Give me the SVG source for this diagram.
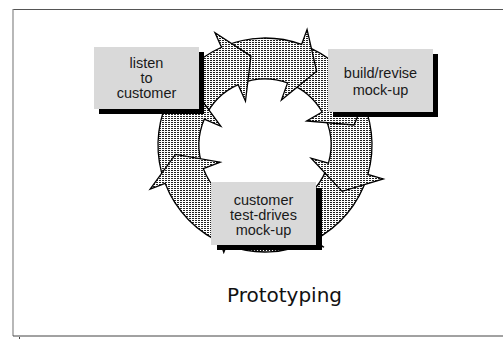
<svg xmlns="http://www.w3.org/2000/svg" width="503" height="339" viewBox="0 0 503 339">
<defs>
<pattern id="hatch" width="3" height="2" patternUnits="userSpaceOnUse">
<rect width="3" height="2" fill="#ffffff"/>
<rect x="0" y="0" width="2" height="1" fill="#222222"/>
</pattern>
</defs>
<style>
.arr{fill:url(#hatch);stroke:#000;stroke-width:1.3;stroke-linejoin:miter}
.box{fill:#d9d9d9}
.sh{fill:#000}
.lbl{font-family:"Liberation Sans",Arial,sans-serif;font-size:14.5px;fill:#1a1a1a;text-anchor:middle}
.title{font-family:"DejaVu Sans",sans-serif;font-size:20px;fill:#111;text-anchor:middle}
</style>
<rect width="503" height="339" fill="#fff"/>
<g id="frame">
<line x1="13" y1="9.5" x2="503" y2="9.5" stroke="#555" stroke-width="1"/>
<line x1="13" y1="9" x2="13" y2="336" stroke="#888" stroke-width="1.2"/>
<line x1="13" y1="336" x2="503" y2="336" stroke="#444" stroke-width="1"/>
<line x1="19.5" y1="337" x2="19.5" y2="339" stroke="#444" stroke-width="1"/>
</g>
<g id="cycle">
<path class="arr" d="M311.91,241.17 A107,107 0 0 1 226.65,244.90 L223.78,252.36 L212.10,217.81 L247.80,189.81 L241.35,206.62 A66,66 0 0 0 293.93,204.32 Z"/>
<path class="arr" d="M367.32,176.29 A107,107 0 0 1 313.58,240.34 L324.00,247.19 L283.71,233.03 L286.79,187.77 L294.96,203.81 A66,66 0 0 0 328.12,164.30 Z"/>
<path class="arr" d="M358.58,93.13 A107,107 0 0 1 367.86,174.49 L383.24,178.90 L342.15,191.35 L311.14,158.23 L328.45,163.19 A66,66 0 0 0 322.72,113.00 Z"/>
<path class="arr" d="M303.35,45.10 A107,107 0 0 1 357.66,91.50 L371.52,83.50 L354.00,125.00 L306.57,121.00 L322.16,112.00 A66,66 0 0 0 288.65,83.38 Z"/>
<path class="arr" d="M223.20,46.51 A107,107 0 0 1 301.59,44.45 L307.07,29.42 L316.62,71.27 L281.42,99.89 L287.57,82.98 A66,66 0 0 0 239.21,84.25 Z"/>
<path class="arr" d="M167.26,101.48 A107,107 0 0 1 221.48,47.26 L214.98,32.64 L250.92,56.11 L245.48,101.15 L238.16,84.71 A66,66 0 0 0 204.71,118.16 Z"/>
<path class="arr" d="M164.45,181.59 A107,107 0 0 1 166.51,103.20 L151.78,96.94 L194.08,89.59 L220.82,126.25 L204.25,119.21 A66,66 0 0 0 202.98,167.57 Z"/>
<path class="arr" d="M224.92,244.21 A107,107 0 0 1 165.10,183.35 L150.17,189.08 L175.49,154.41 L220.19,162.20 L203.38,168.65 A66,66 0 0 0 240.28,206.20 Z"/>
</g>
<g id="listen">
<rect class="sh" x="99" y="52" width="105" height="62"/>
<rect class="box" x="94" y="47" width="105" height="62"/>
<text class="lbl" x="146.5" y="67.5">listen</text>
<text class="lbl" x="146.5" y="82.5">to</text>
<text class="lbl" x="146.5" y="97.5">customer</text>
</g>
<g id="build">
<rect class="sh" x="333" y="54" width="105" height="63"/>
<rect class="box" x="328" y="49" width="105" height="63"/>
<text class="lbl" x="380.5" y="78.3">build/revise</text>
<text class="lbl" x="380.5" y="95">mock-up</text>
</g>
<g id="testdrive">
<rect class="sh" x="217" y="188" width="105" height="62"/>
<rect class="box" x="211" y="182" width="105" height="63"/>
<text class="lbl" x="263.5" y="205">customer</text>
<text class="lbl" x="263.5" y="220">test-drives</text>
<text class="lbl" x="263.5" y="235">mock-up</text>
</g>
<text class="title" x="284.5" y="302">Prototyping</text>
</svg>
